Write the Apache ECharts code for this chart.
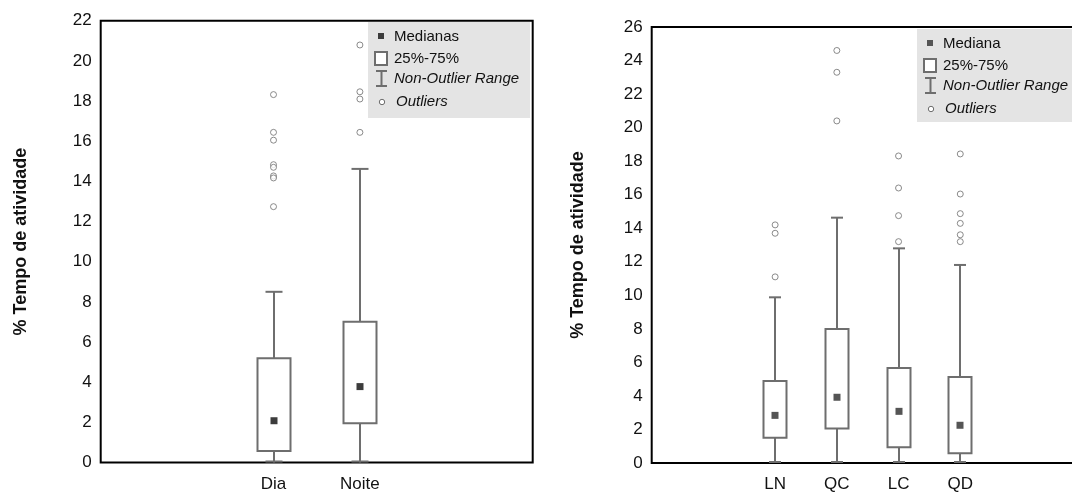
<!DOCTYPE html>
<html>
<head>
<meta charset="utf-8">
<script src="https://cdn.jsdelivr.net/npm/echarts@6/dist/echarts.min.js"></script>
<style>
  html, body { margin: 0; padding: 0; background: #ffffff; }
  #chart { width: 1072px; height: 493px; }
</style>
</head>
<body>
<div id="chart"></div>
<script>
// ---- Left panel: activity by period of the day ----
const periodCategories = ['Dia', 'Noite'];
const periodLow = [0, 0];
const periodQ1 = [0.57, 1.95];
const periodMedian = [2.08, 3.78];
const periodQ3 = [5.19, 7.01];
const periodHigh = [8.5, 14.62];
const periodOutliersDia = [18.32, 16.44, 16.05, 14.83, 14.7, 14.27, 14.17, 12.74];
const periodOutliersNoite = [20.79, 18.46, 18.1, 16.44];
const periodYMax = 22;

// ---- Right panel: activity by moon phase ----
const phaseCategories = ['LN', 'QC', 'LC', 'QD'];
const phaseLow = [0, 0, 0, 0];
const phaseQ1 = [1.51, 2.05, 0.94, 0.58];
const phaseMedian = [2.84, 3.92, 3.08, 2.25];
const phaseQ3 = [4.89, 7.99, 5.66, 5.13];
const phaseHigh = [9.88, 14.63, 12.8, 11.81];
const phaseOutliersLN = [14.2, 13.7, 11.1];
const phaseOutliersQC = [24.6, 23.3, 20.4];
const phaseOutliersLC = [18.31, 16.4, 14.75, 13.2];
const phaseOutliersQD = [18.43, 16.04, 14.87, 14.29, 13.61, 13.2];
const phaseYMax = 26;

const yStep = 2;
const yTitle = '% Tempo de atividade';

// categories sit at x = 2, 3, ... on a value axis that starts at 0
const POS0 = 2;
const FONT = '"Liberation Sans", Arial, sans-serif';
const BOX_COLOR = '#6e6e6e';

function boxRows(low, q1, med, q3, high) {
  return low.map((v, i) => [i + POS0, v, q1[i], med[i], q3[i], high[i]]);
}
function outlierRows(groups) {
  const rows = [];
  groups.forEach((vals, i) => vals.forEach(v => rows.push([i + POS0, v])));
  return rows;
}

function boxRenderer(boxW, capW, medSize, medColor) {
  return function (params, api) {
    const x = api.value(0);
    const pLow = api.coord([x, api.value(1)]);
    const pQ1 = api.coord([x, api.value(2)]);
    const pMed = api.coord([x, api.value(3)]);
    const pQ3 = api.coord([x, api.value(4)]);
    const pHigh = api.coord([x, api.value(5)]);
    const cx = Math.round(pLow[0]);
    const ln = { stroke: BOX_COLOR, lineWidth: 2 };
    return {
      type: 'group',
      children: [
        { type: 'line', shape: { x1: cx, y1: pHigh[1], x2: cx, y2: pQ3[1] }, style: ln },
        { type: 'line', shape: { x1: cx, y1: pQ1[1], x2: cx, y2: pLow[1] }, style: ln },
        { type: 'line', shape: { x1: cx - capW / 2, y1: pHigh[1], x2: cx + capW / 2, y2: pHigh[1] }, style: ln },
        { type: 'line', shape: { x1: cx - capW / 2, y1: pLow[1] - 1, x2: cx + capW / 2, y2: pLow[1] - 1 }, style: ln },
        { type: 'rect', shape: { x: cx - boxW / 2, y: pQ3[1], width: boxW, height: pQ1[1] - pQ3[1] },
          style: { fill: '#ffffff', stroke: BOX_COLOR, lineWidth: 2 } },
        { type: 'rect', shape: { x: cx - medSize / 2, y: pMed[1] - medSize / 2, width: medSize, height: medSize },
          style: { fill: medColor } }
      ]
    };
  };
}

function xAxisFor(gridIndex, cats, span) {
  return {
    type: 'value', gridIndex: gridIndex, min: 0, max: span, interval: 1,
    axisLine: { show: false }, axisTick: { show: false }, splitLine: { show: false },
    axisLabel: {
      customValues: cats.map((c, i) => i + POS0),
      formatter: v => cats[v - POS0] || '',
      fontFamily: FONT, fontSize: 17, color: '#111', margin: 13
    }
  };
}
function yAxisFor(gridIndex, max, gap) {
  return {
    type: 'value', gridIndex: gridIndex, min: 0, max: max, interval: yStep,
    axisLine: { show: false }, axisTick: { show: false }, splitLine: { show: false },
    axisLabel: { fontFamily: FONT, fontSize: 17, color: '#111', margin: 9 },
    name: yTitle, nameLocation: 'middle', nameGap: gap,
    nameTextStyle: { fontFamily: FONT, fontSize: 18, fontWeight: 'bold', color: '#111' }
  };
}

// legend panel drawn with plain graphic elements
function legendPanel(x, y, w, h, medLabel, medColor) {
  const ix = x + 7, tx = x + 26;
  return [
    { type: 'rect', shape: { x: x, y: y, width: w, height: h }, style: { fill: '#e4e4e4' }, z: 10 },
    { type: 'rect', shape: { x: ix + 3, y: y + 11, width: 6, height: 6 }, style: { fill: medColor }, z: 11 },
    { type: 'text', x: tx, y: y + 15, style: { text: medLabel, font: '15px ' + FONT, fill: '#111', verticalAlign: 'middle' }, z: 11 },
    { type: 'rect', shape: { x: ix, y: y + 30, width: 12, height: 13 }, style: { fill: '#ffffff', stroke: BOX_COLOR, lineWidth: 2 }, z: 11 },
    { type: 'text', x: tx, y: y + 37, style: { text: '25%-75%', font: '15px ' + FONT, fill: '#111', verticalAlign: 'middle' }, z: 11 },
    { type: 'polyline', shape: { points: [[ix + 1, y + 49], [ix + 12, y + 49]] }, style: { stroke: BOX_COLOR, lineWidth: 2 }, z: 11 },
    { type: 'polyline', shape: { points: [[ix + 6.5, y + 49], [ix + 6.5, y + 64]] }, style: { stroke: BOX_COLOR, lineWidth: 2 }, z: 11 },
    { type: 'polyline', shape: { points: [[ix + 1, y + 64], [ix + 12, y + 64]] }, style: { stroke: BOX_COLOR, lineWidth: 2 }, z: 11 },
    { type: 'text', x: tx, y: y + 57, style: { text: 'Non-Outlier Range', font: 'italic 15px ' + FONT, fill: '#111', verticalAlign: 'middle' }, z: 11 },
    { type: 'circle', shape: { cx: ix + 7, cy: y + 80, r: 2.7 }, style: { fill: '#ffffff', stroke: BOX_COLOR, lineWidth: 1 }, z: 11 },
    { type: 'text', x: tx + 2, y: y + 80, style: { text: 'Outliers', font: 'italic 15px ' + FONT, fill: '#111', verticalAlign: 'middle' }, z: 11 }
  ];
}

const outlierStyle = { color: '#ffffff', borderColor: BOX_COLOR, borderWidth: 1 };

const option = {
  backgroundColor: '#ffffff',
  animation: false,
  grid: [
    { left: 100.7, top: 20.7, width: 432, height: 441.8, outerBoundsMode: 'none',
      show: true, borderColor: '#000', borderWidth: 2, backgroundColor: 'transparent' },
    { left: 651.7, top: 27, width: 432, height: 436, outerBoundsMode: 'none',
      show: true, borderColor: '#000', borderWidth: 2, backgroundColor: 'transparent' }
  ],
  xAxis: [
    xAxisFor(0, periodCategories, 5),
    xAxisFor(1, phaseCategories, 7)
  ],
  yAxis: [
    yAxisFor(0, periodYMax, 71),
    yAxisFor(1, phaseYMax, 65)
  ],
  series: [
    {
      type: 'custom', xAxisIndex: 0, yAxisIndex: 0, z: 3,
      renderItem: boxRenderer(33, 17, 7, '#3c3c3c'),
      encode: { x: 0, y: [1, 2, 3, 4, 5] },
      data: boxRows(periodLow, periodQ1, periodMedian, periodQ3, periodHigh)
    },
    {
      type: 'scatter', xAxisIndex: 0, yAxisIndex: 0, z: 4,
      symbol: 'circle', symbolSize: 6, itemStyle: outlierStyle,
      data: outlierRows([periodOutliersDia, periodOutliersNoite])
    },
    {
      type: 'custom', xAxisIndex: 1, yAxisIndex: 1, z: 3,
      renderItem: boxRenderer(23, 12, 7, '#555555'),
      encode: { x: 0, y: [1, 2, 3, 4, 5] },
      data: boxRows(phaseLow, phaseQ1, phaseMedian, phaseQ3, phaseHigh)
    },
    {
      type: 'scatter', xAxisIndex: 1, yAxisIndex: 1, z: 4,
      symbol: 'circle', symbolSize: 6, itemStyle: outlierStyle,
      data: outlierRows([phaseOutliersLN, phaseOutliersQC, phaseOutliersLC, phaseOutliersQD])
    }
  ],
  graphic: [
    ...legendPanel(368, 22, 162, 96, 'Medianas', '#3c3c3c'),
    ...legendPanel(917, 29, 160, 93, 'Mediana', '#555555')
  ]
};

const chart = echarts.init(document.getElementById('chart'), null, { renderer: 'canvas' });
chart.setOption(option);
</script>
</body>
</html>
